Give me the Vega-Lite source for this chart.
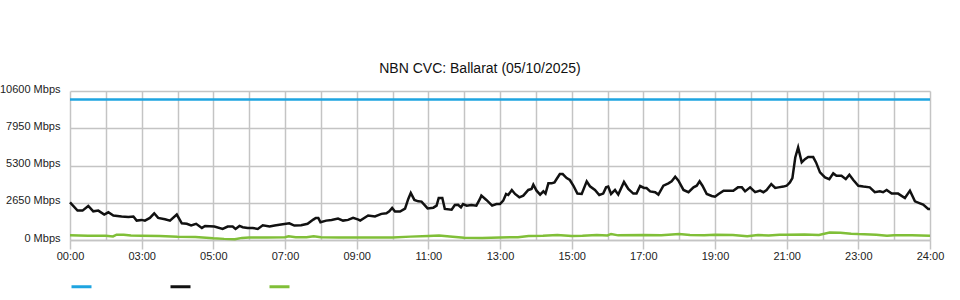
{
  "$schema": "https://vega.github.io/schema/vega-lite/v6.json",
  "width": 860,
  "height": 149,
  "autosize": {"type": "none"},
  "padding": {"left": 70, "top": 91, "right": 30, "bottom": 60},
  "background": "white",
  "title": {"text": "NBN CVC: Ballarat (05/10/2025)", "fontSize": 14, "font": "Liberation Sans", "fontWeight": "normal", "color": "#111", "anchor": "middle", "dx": -20, "offset": 7},
  "config": {
    "view": {"stroke": null},
    "font": "Liberation Sans",
    "axis": {"labelFont": "Liberation Sans", "labelFontSize": 11, "labelColor": "#222", "gridColor": "#c4c4c4", "gridWidth": 1.5, "domainColor": "#c4c4c4", "domainWidth": 1.5, "tickColor": "#c4c4c4", "tickWidth": 1.5, "title": null}
  },
  "datasets": {
    "traffic": [
      {"t": 0, "s": "Capacity", "v": 10000},
      {"t": 24, "s": "Capacity", "v": 10000},
      {"t": 0, "s": "Download", "v": 2680},
      {"t": 0.21, "s": "Download", "v": 2090},
      {"t": 0.35, "s": "Download", "v": 2090},
      {"t": 0.51, "s": "Download", "v": 2420},
      {"t": 0.65, "s": "Download", "v": 2040},
      {"t": 0.79, "s": "Download", "v": 2090},
      {"t": 0.955, "s": "Download", "v": 1810},
      {"t": 1.07, "s": "Download", "v": 1970},
      {"t": 1.21, "s": "Download", "v": 1740},
      {"t": 1.44, "s": "Download", "v": 1670},
      {"t": 1.63, "s": "Download", "v": 1630},
      {"t": 1.77, "s": "Download", "v": 1670},
      {"t": 1.86, "s": "Download", "v": 1380},
      {"t": 2.0, "s": "Download", "v": 1430},
      {"t": 2.09, "s": "Download", "v": 1380},
      {"t": 2.23, "s": "Download", "v": 1570},
      {"t": 2.35, "s": "Download", "v": 1900},
      {"t": 2.46, "s": "Download", "v": 1570},
      {"t": 2.65, "s": "Download", "v": 1480},
      {"t": 2.79, "s": "Download", "v": 1380},
      {"t": 2.98, "s": "Download", "v": 1810},
      {"t": 3.12, "s": "Download", "v": 1190},
      {"t": 3.26, "s": "Download", "v": 1150},
      {"t": 3.38, "s": "Download", "v": 1030},
      {"t": 3.52, "s": "Download", "v": 1150},
      {"t": 3.68, "s": "Download", "v": 860},
      {"t": 3.77, "s": "Download", "v": 1000},
      {"t": 4.03, "s": "Download", "v": 960},
      {"t": 4.26, "s": "Download", "v": 790},
      {"t": 4.4, "s": "Download", "v": 960},
      {"t": 4.54, "s": "Download", "v": 960},
      {"t": 4.62, "s": "Download", "v": 790},
      {"t": 4.73, "s": "Download", "v": 1000},
      {"t": 4.82, "s": "Download", "v": 910},
      {"t": 4.96, "s": "Download", "v": 860},
      {"t": 5.1, "s": "Download", "v": 860},
      {"t": 5.24, "s": "Download", "v": 790},
      {"t": 5.38, "s": "Download", "v": 1050},
      {"t": 5.57, "s": "Download", "v": 960},
      {"t": 5.71, "s": "Download", "v": 1030},
      {"t": 5.89, "s": "Download", "v": 1100},
      {"t": 6.12, "s": "Download", "v": 1190},
      {"t": 6.26, "s": "Download", "v": 1030},
      {"t": 6.45, "s": "Download", "v": 1050},
      {"t": 6.63, "s": "Download", "v": 1150},
      {"t": 6.79, "s": "Download", "v": 1450},
      {"t": 6.86, "s": "Download", "v": 1570},
      {"t": 6.93, "s": "Download", "v": 1570},
      {"t": 6.99, "s": "Download", "v": 1260},
      {"t": 7.15, "s": "Download", "v": 1380},
      {"t": 7.3, "s": "Download", "v": 1430},
      {"t": 7.48, "s": "Download", "v": 1520},
      {"t": 7.62, "s": "Download", "v": 1380},
      {"t": 7.76, "s": "Download", "v": 1430},
      {"t": 7.9, "s": "Download", "v": 1570},
      {"t": 8.05, "s": "Download", "v": 1450},
      {"t": 8.1, "s": "Download", "v": 1380},
      {"t": 8.32, "s": "Download", "v": 1740},
      {"t": 8.51, "s": "Download", "v": 1670},
      {"t": 8.69, "s": "Download", "v": 1860},
      {"t": 8.83, "s": "Download", "v": 1900},
      {"t": 8.91, "s": "Download", "v": 2040},
      {"t": 8.99, "s": "Download", "v": 2280},
      {"t": 9.07, "s": "Download", "v": 2020},
      {"t": 9.21, "s": "Download", "v": 2020},
      {"t": 9.35, "s": "Download", "v": 2230},
      {"t": 9.44, "s": "Download", "v": 2920},
      {"t": 9.51, "s": "Download", "v": 3345},
      {"t": 9.61, "s": "Download", "v": 2850},
      {"t": 9.72, "s": "Download", "v": 2750},
      {"t": 9.81, "s": "Download", "v": 2730},
      {"t": 9.98, "s": "Download", "v": 2250},
      {"t": 10.14, "s": "Download", "v": 2300},
      {"t": 10.23, "s": "Download", "v": 2445},
      {"t": 10.29, "s": "Download", "v": 2990},
      {"t": 10.39, "s": "Download", "v": 2990},
      {"t": 10.46, "s": "Download", "v": 2210},
      {"t": 10.65, "s": "Download", "v": 2160},
      {"t": 10.74, "s": "Download", "v": 2490},
      {"t": 10.83, "s": "Download", "v": 2510},
      {"t": 10.91, "s": "Download", "v": 2330},
      {"t": 10.97, "s": "Download", "v": 2560},
      {"t": 11.07, "s": "Download", "v": 2445},
      {"t": 11.2, "s": "Download", "v": 2490},
      {"t": 11.34, "s": "Download", "v": 2445},
      {"t": 11.44, "s": "Download", "v": 2920},
      {"t": 11.48, "s": "Download", "v": 3155},
      {"t": 11.62, "s": "Download", "v": 2850},
      {"t": 11.78, "s": "Download", "v": 2445},
      {"t": 11.9, "s": "Download", "v": 2560},
      {"t": 12.0, "s": "Download", "v": 2560},
      {"t": 12.09, "s": "Download", "v": 2800},
      {"t": 12.17, "s": "Download", "v": 3275},
      {"t": 12.23, "s": "Download", "v": 3200},
      {"t": 12.33, "s": "Download", "v": 3560},
      {"t": 12.42, "s": "Download", "v": 3275},
      {"t": 12.54, "s": "Download", "v": 3035},
      {"t": 12.65, "s": "Download", "v": 3155},
      {"t": 12.79, "s": "Download", "v": 3560},
      {"t": 12.88, "s": "Download", "v": 3630},
      {"t": 12.93, "s": "Download", "v": 3935},
      {"t": 13.02, "s": "Download", "v": 3510},
      {"t": 13.12, "s": "Download", "v": 3230},
      {"t": 13.21, "s": "Download", "v": 3460},
      {"t": 13.27, "s": "Download", "v": 3300},
      {"t": 13.35, "s": "Download", "v": 4030},
      {"t": 13.44, "s": "Download", "v": 4030},
      {"t": 13.52, "s": "Download", "v": 4100},
      {"t": 13.58, "s": "Download", "v": 4340},
      {"t": 13.67, "s": "Download", "v": 4690},
      {"t": 13.75, "s": "Download", "v": 4690},
      {"t": 13.86, "s": "Download", "v": 4410},
      {"t": 13.95, "s": "Download", "v": 4270},
      {"t": 14.05, "s": "Download", "v": 3860},
      {"t": 14.16, "s": "Download", "v": 3300},
      {"t": 14.28, "s": "Download", "v": 3275},
      {"t": 14.42, "s": "Download", "v": 4170},
      {"t": 14.51, "s": "Download", "v": 3820},
      {"t": 14.65, "s": "Download", "v": 3560},
      {"t": 14.77, "s": "Download", "v": 3200},
      {"t": 14.88, "s": "Download", "v": 3300},
      {"t": 14.96, "s": "Download", "v": 3745},
      {"t": 15.02, "s": "Download", "v": 3800},
      {"t": 15.1, "s": "Download", "v": 3275},
      {"t": 15.21, "s": "Download", "v": 3560},
      {"t": 15.3, "s": "Download", "v": 3230},
      {"t": 15.46, "s": "Download", "v": 4125},
      {"t": 15.58, "s": "Download", "v": 3630},
      {"t": 15.72, "s": "Download", "v": 3300},
      {"t": 15.81, "s": "Download", "v": 3300},
      {"t": 15.91, "s": "Download", "v": 3840},
      {"t": 16.02, "s": "Download", "v": 3700},
      {"t": 16.09, "s": "Download", "v": 3700},
      {"t": 16.19, "s": "Download", "v": 3460},
      {"t": 16.33, "s": "Download", "v": 3400},
      {"t": 16.42, "s": "Download", "v": 3230},
      {"t": 16.56, "s": "Download", "v": 3860},
      {"t": 16.7, "s": "Download", "v": 4030},
      {"t": 16.79, "s": "Download", "v": 4170},
      {"t": 16.89, "s": "Download", "v": 4500},
      {"t": 16.98, "s": "Download", "v": 4220},
      {"t": 17.12, "s": "Download", "v": 3560},
      {"t": 17.26, "s": "Download", "v": 3400},
      {"t": 17.4, "s": "Download", "v": 3745},
      {"t": 17.49, "s": "Download", "v": 3860},
      {"t": 17.57, "s": "Download", "v": 4170},
      {"t": 17.65, "s": "Download", "v": 3860},
      {"t": 17.77, "s": "Download", "v": 3275},
      {"t": 17.91, "s": "Download", "v": 3130},
      {"t": 18.0, "s": "Download", "v": 3085},
      {"t": 18.1, "s": "Download", "v": 3275},
      {"t": 18.24, "s": "Download", "v": 3510},
      {"t": 18.38, "s": "Download", "v": 3510},
      {"t": 18.51, "s": "Download", "v": 3510},
      {"t": 18.64, "s": "Download", "v": 3745},
      {"t": 18.75, "s": "Download", "v": 3745},
      {"t": 18.84, "s": "Download", "v": 3460},
      {"t": 18.98, "s": "Download", "v": 3745},
      {"t": 19.12, "s": "Download", "v": 3400},
      {"t": 19.26, "s": "Download", "v": 3510},
      {"t": 19.35, "s": "Download", "v": 3400},
      {"t": 19.44, "s": "Download", "v": 3560},
      {"t": 19.57, "s": "Download", "v": 3980},
      {"t": 19.68, "s": "Download", "v": 3700},
      {"t": 19.77, "s": "Download", "v": 3745},
      {"t": 19.91, "s": "Download", "v": 3800},
      {"t": 20.0, "s": "Download", "v": 3860},
      {"t": 20.09, "s": "Download", "v": 4100},
      {"t": 20.16, "s": "Download", "v": 4400},
      {"t": 20.24, "s": "Download", "v": 5870},
      {"t": 20.32, "s": "Download", "v": 6580},
      {"t": 20.42, "s": "Download", "v": 5520},
      {"t": 20.51, "s": "Download", "v": 5750},
      {"t": 20.6, "s": "Download", "v": 5900},
      {"t": 20.74, "s": "Download", "v": 5900},
      {"t": 20.82, "s": "Download", "v": 5520},
      {"t": 20.93, "s": "Download", "v": 4810},
      {"t": 21.07, "s": "Download", "v": 4450},
      {"t": 21.19, "s": "Download", "v": 4330},
      {"t": 21.3, "s": "Download", "v": 4740},
      {"t": 21.39, "s": "Download", "v": 4570},
      {"t": 21.53, "s": "Download", "v": 4570},
      {"t": 21.65, "s": "Download", "v": 4330},
      {"t": 21.75, "s": "Download", "v": 4640},
      {"t": 21.86, "s": "Download", "v": 4270},
      {"t": 22.0, "s": "Download", "v": 3860},
      {"t": 22.14, "s": "Download", "v": 3800},
      {"t": 22.32, "s": "Download", "v": 3745},
      {"t": 22.46, "s": "Download", "v": 3400},
      {"t": 22.6, "s": "Download", "v": 3460},
      {"t": 22.69, "s": "Download", "v": 3400},
      {"t": 22.79, "s": "Download", "v": 3560},
      {"t": 22.93, "s": "Download", "v": 3300},
      {"t": 23.11, "s": "Download", "v": 3300},
      {"t": 23.3, "s": "Download", "v": 2990},
      {"t": 23.44, "s": "Download", "v": 3510},
      {"t": 23.58, "s": "Download", "v": 2750},
      {"t": 23.72, "s": "Download", "v": 2610},
      {"t": 23.81, "s": "Download", "v": 2520},
      {"t": 23.95, "s": "Download", "v": 2210},
      {"t": 24.0, "s": "Download", "v": 2210},
      {"t": 0, "s": "Upload", "v": 330},
      {"t": 0.5, "s": "Upload", "v": 300},
      {"t": 1.0, "s": "Upload", "v": 300},
      {"t": 1.2, "s": "Upload", "v": 250},
      {"t": 1.3, "s": "Upload", "v": 380},
      {"t": 1.5, "s": "Upload", "v": 380},
      {"t": 1.7, "s": "Upload", "v": 320},
      {"t": 2.0, "s": "Upload", "v": 300},
      {"t": 2.5, "s": "Upload", "v": 280},
      {"t": 3.0, "s": "Upload", "v": 230},
      {"t": 3.5, "s": "Upload", "v": 220},
      {"t": 4.0, "s": "Upload", "v": 120},
      {"t": 4.3, "s": "Upload", "v": 80},
      {"t": 4.6, "s": "Upload", "v": 60},
      {"t": 4.8, "s": "Upload", "v": 150},
      {"t": 5.0, "s": "Upload", "v": 170},
      {"t": 5.5, "s": "Upload", "v": 180},
      {"t": 6.0, "s": "Upload", "v": 190},
      {"t": 6.1, "s": "Upload", "v": 260},
      {"t": 6.3, "s": "Upload", "v": 190},
      {"t": 6.6, "s": "Upload", "v": 190},
      {"t": 6.8, "s": "Upload", "v": 270},
      {"t": 7.0, "s": "Upload", "v": 200},
      {"t": 7.5, "s": "Upload", "v": 180},
      {"t": 8.0, "s": "Upload", "v": 180},
      {"t": 8.5, "s": "Upload", "v": 170},
      {"t": 9.0, "s": "Upload", "v": 180},
      {"t": 9.5, "s": "Upload", "v": 240},
      {"t": 10.0, "s": "Upload", "v": 280},
      {"t": 10.3, "s": "Upload", "v": 320},
      {"t": 10.6, "s": "Upload", "v": 250},
      {"t": 11.0, "s": "Upload", "v": 160},
      {"t": 11.5, "s": "Upload", "v": 150},
      {"t": 12.0, "s": "Upload", "v": 180},
      {"t": 12.5, "s": "Upload", "v": 200},
      {"t": 12.8, "s": "Upload", "v": 290},
      {"t": 13.2, "s": "Upload", "v": 300},
      {"t": 13.6, "s": "Upload", "v": 350},
      {"t": 14.0, "s": "Upload", "v": 290},
      {"t": 14.3, "s": "Upload", "v": 300},
      {"t": 14.7, "s": "Upload", "v": 360},
      {"t": 15.0, "s": "Upload", "v": 320},
      {"t": 15.1, "s": "Upload", "v": 430},
      {"t": 15.3, "s": "Upload", "v": 330},
      {"t": 16.0, "s": "Upload", "v": 350},
      {"t": 16.5, "s": "Upload", "v": 330},
      {"t": 17.0, "s": "Upload", "v": 420},
      {"t": 17.3, "s": "Upload", "v": 350},
      {"t": 17.7, "s": "Upload", "v": 330},
      {"t": 18.0, "s": "Upload", "v": 370},
      {"t": 18.5, "s": "Upload", "v": 360},
      {"t": 18.9, "s": "Upload", "v": 260},
      {"t": 19.2, "s": "Upload", "v": 360},
      {"t": 19.5, "s": "Upload", "v": 320},
      {"t": 19.8, "s": "Upload", "v": 380},
      {"t": 20.0, "s": "Upload", "v": 380},
      {"t": 20.5, "s": "Upload", "v": 400},
      {"t": 20.9, "s": "Upload", "v": 360},
      {"t": 21.2, "s": "Upload", "v": 540},
      {"t": 21.5, "s": "Upload", "v": 520},
      {"t": 21.8, "s": "Upload", "v": 450},
      {"t": 22.0, "s": "Upload", "v": 420},
      {"t": 22.5, "s": "Upload", "v": 380},
      {"t": 22.8, "s": "Upload", "v": 300},
      {"t": 23.0, "s": "Upload", "v": 340},
      {"t": 23.5, "s": "Upload", "v": 330},
      {"t": 24.0, "s": "Upload", "v": 300}
    ]
  },
  "data": {"name": "traffic"},
  "mark": {"type": "line", "strokeWidth": 2.5, "interpolate": "linear"},
  "encoding": {
    "x": {
      "field": "t",
      "type": "quantitative",
      "scale": {"domain": [0, 24], "nice": false, "zero": false},
      "axis": {
        "values": [0,1,2,3,4,5,6,7,8,9,10,11,12,13,14,15,16,17,18,19,20,21,22,23,24],
        "labelExpr": "datum.value == 0 ? '00:00' : datum.value == 24 ? '24:00' : datum.value % 2 == 0 ? ((datum.value + 1) < 10 ? '0' : '') + (datum.value + 1) + ':00' : ''",
        "labelOverlap": false,
        "labelFlush": false,
        "tickSize": 9,
        "tickOpacity": {"condition": {"test": "datum.value % 2 == 0", "value": 1}, "value": 0},
        "labelPadding": 1,
        "grid": true
      }
    },
    "y": {
      "field": "v",
      "type": "quantitative",
      "scale": {"domain": [0, 10600], "nice": false},
      "axis": {
        "values": [0, 2650, 5300, 7950, 10600],
        "labelExpr": "datum.value + ' Mbps'",
        "ticks": false,
        "domain": false,
        "labelPadding": 10,
        "labelOffset": -2,
        "grid": true
      }
    },
    "color": {
      "field": "s",
      "type": "nominal",
      "sort": ["Capacity", "Download", "Upload"],
      "scale": {"domain": ["Capacity", "Download", "Upload"], "range": ["#1ea4e0", "#111111", "#80bf38"]},
      "legend": {
        "orient": "none",
        "legendX": 0,
        "legendY": 184,
        "direction": "horizontal",
        "title": null,
        "symbolType": "stroke",
        "symbolSize": 400,
        "symbolStrokeWidth": 3,
        "labelExpr": "''",
        "labelOffset": 0,
        "columnPadding": 66,
        "padding": 0
      }
    }
  }
}
